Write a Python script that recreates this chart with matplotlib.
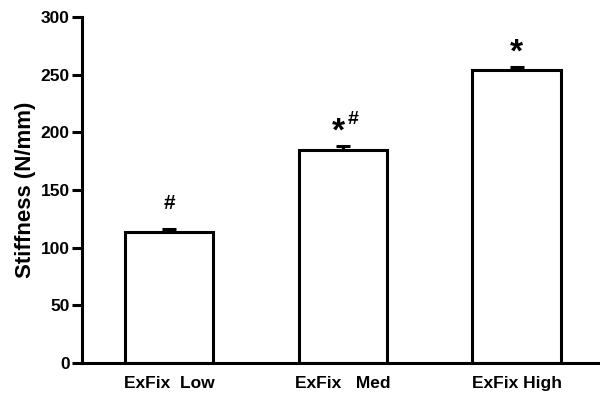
import matplotlib.pyplot as plt

plt.rcParams['font.family'] = ['Liberation Sans', 'DejaVu Sans']
plt.rcParams['font.weight'] = 'bold'

groups = ["ExFix  Low", "ExFix   Med", "ExFix High"]
stiffness = [114, 185, 254]
sem = [2, 3, 3]
marks = ["#", "*", "*"]
sup_marks = ["", "#", ""]

fig = plt.figure(figsize=(6, 3.96), dpi=100)
ax = fig.add_axes([0.137, 0.083, 0.86, 0.874])

x = range(len(groups))
ax.bar(x, stiffness, width=0.51, color='white', edgecolor='black', linewidth=2.2, zorder=2)
ax.errorbar(x, stiffness, yerr=[[0] * len(sem), sem], fmt='none', ecolor='black',
            elinewidth=2.2, capsize=5, capthick=2.2, zorder=1)

for i, (m, s) in enumerate(zip(marks, sup_marks)):
    top = stiffness[i] + sem[i]
    if m == "*":
        ax.text(i - (0.025 if s else 0), top + 12, m, ha='center', va='center',
                fontsize=24, fontweight='bold')
    else:
        ax.text(i, top + 22, m, ha='center', va='center', fontsize=15, fontweight='bold')
    if s:
        ax.text(i + 0.062, top + 23, s, ha='center', va='center', fontsize=14, fontweight='bold')

ax.set_xlim(-0.5, 2.47)
ax.set_ylim(0, 300)
ax.set_yticks(range(0, 301, 50))
ax.set_xticks(list(x))
ax.set_xticklabels(groups, fontsize=12.5, fontweight='bold')
ax.tick_params(axis='x', length=0, pad=9)
ax.tick_params(axis='y', length=7, width=2.2, labelsize=12.5, pad=2)
for t in ax.get_yticklabels():
    t.set_fontweight('bold')
ax.set_ylabel('Stiffness (N/mm)', fontsize=16, fontweight='bold', labelpad=3)

ax.spines['top'].set_visible(False)
ax.spines['right'].set_visible(False)
ax.spines['left'].set_linewidth(2.2)
ax.spines['bottom'].set_linewidth(2.2)

plt.savefig("out.png", dpi=100)
